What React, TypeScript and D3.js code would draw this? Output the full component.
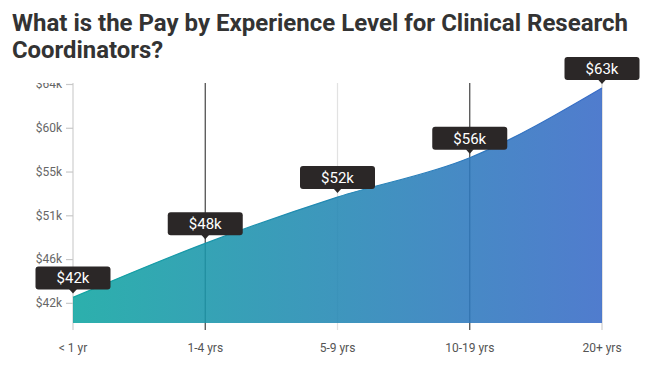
import { useEffect, useRef } from 'react';
import * as d3 from 'd3';

const categories = ["< 1 yr", "1-4 yrs", "5-9 yrs", "10-19 yrs", "20+ yrs"];
const pay = [42.3, 47.8, 52.5, 56.5, 63.6];
const payLabels = ["$42k", "$48k", "$52k", "$56k", "$63k"];
const yTickValues = [41.75, 46.2, 50.65, 55.1, 59.55, 64.0];
const yTickLabels = ["$42k", "$46k", "$51k", "$55k", "$60k", "$64k"];
const gridColors = ["#cfcfcf", "#444444", "#e2e2e2", "#444444", "#cfcfcf"];
const titleLines = ["What is the Pay by Experience Level for Clinical Research", "Coordinators?"];

export default function App() {
  const svgRef = useRef<SVGSVGElement>(null);

  useEffect(() => {
    document.body.style.margin = "0";
    if (!svgRef.current) return;
    const svg = d3.select(svgRef.current);
    svg.selectAll("*").remove();

    const width = 662;
    const height = 367;
    svg.attr("width", width).attr("height", height);

    // title
    const widths = [616, 151];
    titleLines.forEach((t, i) => {
      svg.append("text")
        .attr("x", 12)
        .attr("y", 31 + i * 27)
        .attr("textLength", widths[i])
        .attr("lengthAdjust", "spacingAndGlyphs")
        .style("font-family", "Roboto, sans-serif")
        .style("font-weight", "bold")
        .style("font-size", "24px")
        .style("fill", "#333")
        .text(t);
    });

    const x = d3.scalePoint<string>().domain(categories).range([73, 602]);
    const y = d3.scaleLinear().domain([39.7, 64.0]).range([323, 84]);
    const top = 83;
    const bottom = 330;

    const defs = svg.append("defs");
    const grad = defs.append("linearGradient")
      .attr("id", "payGrad")
      .attr("gradientUnits", "userSpaceOnUse")
      .attr("x1", x(categories[0])!).attr("x2", x(categories[4])!)
      .attr("y1", 0).attr("y2", 0);
    grad.append("stop").attr("offset", "0%").attr("stop-color", "#0fa5a1");
    grad.append("stop").attr("offset", "100%").attr("stop-color", "#386ac7");

    // the top tick label is cut off by the plot box in the original
    defs.append("clipPath").attr("id", "plotClip")
      .append("rect").attr("x", 0).attr("y", 83).attr("width", width).attr("height", height - 83);

    const g = svg.append("g").attr("clip-path", "url(#plotClip)");

    // vertical grid lines (behind the area)
    g.selectAll(".grid")
      .data(categories)
      .enter().append("line")
      .attr("class", "grid")
      .attr("x1", d => x(d)!)
      .attr("x2", d => x(d)!)
      .attr("y1", top)
      .attr("y2", bottom)
      .attr("stroke", (d, i) => gridColors[i])
      .attr("stroke-width", 1.2);

    // y axis
    const yAxis = g.append("g")
      .attr("transform", `translate(${x(categories[0])},0)`)
      .call(d3.axisLeft(y).tickValues(yTickValues).tickSize(7).tickPadding(4)
        .tickFormat((d, i) => yTickLabels[i]) as any);
    yAxis.select(".domain").remove();
    yAxis.selectAll(".tick line").attr("stroke", "#c8c8c8").attr("stroke-width", 1.2);
    yAxis.selectAll(".tick text")
      .style("font-family", "Roboto, sans-serif")
      .style("font-size", "12px")
      .style("fill", "#666");

    const area = d3.area<number>()
      .x((d, i) => x(categories[i])!)
      .y0(y(39.7))
      .y1(d => y(d))
      .curve(d3.curveMonotoneX);

    const line = d3.line<number>()
      .x((d, i) => x(categories[i])!)
      .y(d => y(d))
      .curve(d3.curveMonotoneX);

    g.append("path")
      .datum(pay)
      .attr("d", area)
      .attr("fill", "url(#payGrad)")
      .attr("fill-opacity", 0.88);

    g.append("path")
      .datum(pay)
      .attr("d", line)
      .attr("fill", "none")
      .attr("stroke", "url(#payGrad)")
      .attr("stroke-width", 1.2);

    // x labels
    svg.selectAll(".xlab")
      .data(categories)
      .enter().append("text")
      .attr("class", "xlab")
      .attr("x", d => x(d)!)
      .attr("y", 352)
      .attr("text-anchor", "middle")
      .style("font-family", "Roboto, sans-serif")
      .style("font-size", "12px")
      .style("fill", "#555")
      .text(d => d);

    // value tooltips
    const bw = 75;
    const bh = 23;
    const tips = svg.selectAll(".tip")
      .data(pay)
      .enter().append("g")
      .attr("class", "tip")
      .attr("transform", (d, i) => `translate(${x(categories[i])},${y(d) - 3})`);

    tips.append("rect")
      .attr("x", -bw / 2)
      .attr("y", -bh - 5)
      .attr("width", bw)
      .attr("height", bh)
      .attr("rx", 3)
      .attr("fill", "#2b2727");

    tips.append("path")
      .attr("d", "M-4,-5.5L4,-5.5L0,-1Z")
      .attr("fill", "#2b2727");

    tips.append("text")
      .attr("x", 0)
      .attr("y", -bh - 5 + 17)
      .attr("text-anchor", "middle")
      .style("font-family", "Roboto, sans-serif")
      .style("font-size", "15px")
      .style("fill", "#fff")
      .text((d, i) => payLabels[i]);
  }, []);

  return <svg ref={svgRef} style={{ display: "block" }}></svg>;
}
